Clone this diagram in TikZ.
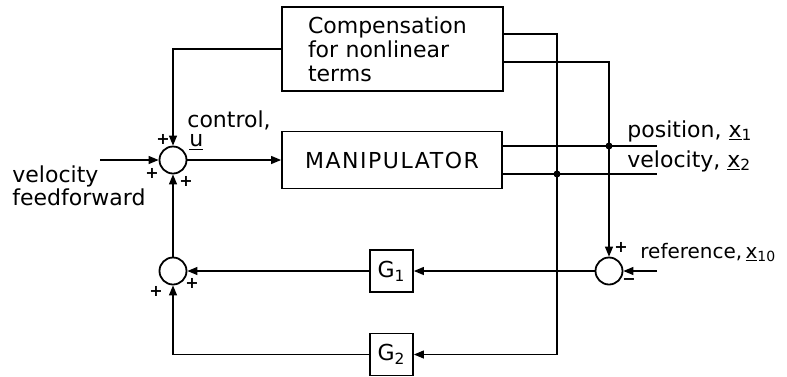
\documentclass[tikz,border=0pt]{standalone}
\usepackage{fontspec}
\setmainfont{DejaVu Sans}
\newfontfamily\widefont[LetterSpace=7]{DejaVu Sans}
\usetikzlibrary{arrows.meta,positioning,calc}

\begin{document}
\begin{tikzpicture}[x=0.5pt,y=-0.5pt,
	font=\fontsize{11}{12}\selectfont,
	blk/.style={draw, line width=0.9pt, inner sep=0pt},
	sumpt/.style={draw, circle, line width=0.9pt, minimum size=13.5pt, inner sep=0pt},
	sig/.style={line width=0.6pt, -{Triangle[length=5pt,width=4pt]}},
	wire/.style={line width=0.6pt},
	sgn/.style={font=\fontsize{8}{8}\selectfont\bfseries, inner sep=0pt},
	tap/.style={circle, fill, inner sep=0pt, minimum size=3.5pt},
	lbl/.style={anchor=base west, inner sep=0pt}]

		\useasboundingbox (0,0) rectangle (787,376);

		% blocks
		\node[blk, minimum width=110.5pt, minimum height=42pt, inner xsep=13pt, text width=84.5pt, align=left] (comp) at (392.5,49) {Compensation\\for nonlinear\\terms};
		\node[blk, minimum width=110pt, minimum height=28.5pt, font=\fontsize{11}{12}\widefont] (manip) at (392,160) {MANIPULATOR};
		\node[blk, minimum width=21.5pt, minimum height=21pt] (g1) at (391.5,271) {G\textsubscript{1}};
		\node[blk, minimum width=21.5pt, minimum height=21pt] (g2) at (391.5,354.5) {G\textsubscript{2}};

		% summing points
		\node[sumpt] (s1) at (173,160) {};
		\node[sumpt] (s2) at (173,271) {};
		\node[sumpt] (s3) at (609,271) {};

		\coordinate (ff) at (100,160);
		\coordinate (pend) at (657,146);
		\coordinate (vend) at (657,174);
		\coordinate (rin) at (657,271);
		\coordinate (ptap) at (609,146);
		\coordinate (vtap) at (557,174);

		% forward path
		\draw[sig] (comp.west) -| (s1.north);
		\draw[sig] (ff) -- (s1.west);
		\draw[sig] (s1.east) -- (manip.west);
		\draw[sig] (s2.north) -- (s1.south);
		\draw[sig] (g1.west) -- (s2.east);
		\draw[sig] (g2.west) -| (s2.south);

		% outputs and feedback
		\draw[wire] (manip.east |- ptap) -- (pend);
		\draw[wire] (manip.east |- vtap) -- (vend);
		\draw[sig] ($(comp.east)+(0,-15)$) -| (vtap) |- (g2.east);
		\draw[sig] ($(comp.east)+(0,13)$) -| (ptap) -- (s3.north);
		\draw[sig] (s3.west) -- (g1.east);
		\draw[sig] (rin) -- (s3.east);
		\node[tap] (pdot) at (ptap) {};
		\node[tap] (vdot) at (vtap) {};

		% labels
		\node[anchor=north west, inner sep=0pt, align=left, font=\fontsize{11}{9.5}\selectfont] (ctl) at (187,110) {control,\\\hspace{1pt}\underline{u}};
		\node[lbl] (vff1) at (12,182) {velocity};
		\node[lbl] (vff2) at (12,205) {feedforward};
		\node[lbl] (pos) at (627,137) {position, \underline{x}\textsubscript{1}};
		\node[lbl] (vel) at (627,167) {velocity, \underline{x}\textsubscript{2}};
		\node[lbl, font=\fontsize{10}{12}\selectfont] (ref) at (640,258) {reference,\,\underline{x}\textsubscript{10}};

		% signs
		\node[sgn] (p1) at (163,139) {+};
		\node[sgn] (p2) at (152,173) {+};
		\node[sgn] (p3) at (186,181) {+};
		\node[sgn] (p4) at (192,283) {+};
		\node[sgn] (p5) at (156,291) {+};
		\node[sgn] (p6) at (621,247) {+};
		\node[sgn] (m1) at (629,282) {−};
	\end{tikzpicture}
\end{document}
